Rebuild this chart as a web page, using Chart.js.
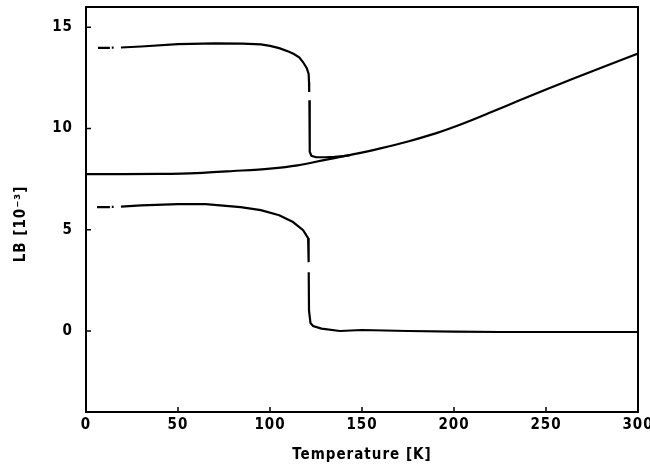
<!DOCTYPE html>
<html>
<head>
<meta charset="utf-8">
<script src="https://cdn.jsdelivr.net/npm/chart.js@4.4.1/dist/chart.umd.min.js"></script>
<style>
    html, body { margin: 0; padding: 0; background: #fff; }
    #wrap { width: 650px; height: 473px; }
</style>
</head>
<body>
<div id="wrap"><canvas id="lbChart"></canvas></div>
<script>
// Dados (LB em 10^-3, temperatura em K)
const xTicks = [0, 50, 100, 150, 200, 250, 300];
const yTicks = [0, 5, 10, 15];

// curva superior (null = falha no traço)
const upperT = [6.5, 13, 13.5, 14, 15, 16, 19, 30, 50, 70, 85, 95, 100, 105, 110, 113, 116, 118, 120, 121, 121.2, 121.3, 121.35, 121.4, 121.5, 121.7, 122.5, 125, 130, 135, 140, 143.5];
const upperLB = [13.98, 13.98, null, 13.99, 13.99, null, 14.0, 14.05, 14.17, 14.2, 14.19, 14.15, 14.08, 13.97, 13.8, 13.68, 13.5, 13.27, 12.98, 12.7, 12.3, 11.8, null, 11.4, 9.5, 8.85, 8.65, 8.58, 8.58, 8.6, 8.64, 8.68];

// curva do meio
const middleT = [0, 20, 40, 60, 80, 100, 115, 130, 145, 160, 175, 190, 205, 220, 235, 250, 265, 280, 300];
const middleLB = [7.75, 7.75, 7.76, 7.8, 7.9, 8.02, 8.18, 8.45, 8.72, 9.02, 9.36, 9.76, 10.25, 10.8, 11.37, 11.93, 12.47, 13.0, 13.7];

// curva inferior
const lowerT = [6, 13, 13.5, 14, 15, 16, 19, 30, 50, 65, 84, 95, 105, 112.5, 118, 120.7, 121, 121.03, 121.05, 121.2, 122, 123.4, 128, 138, 150, 175, 200, 225, 250, 275, 300];
const lowerLB = [6.12, 6.12, null, 6.13, 6.13, null, 6.14, 6.2, 6.27, 6.27, 6.12, 5.97, 5.72, 5.38, 4.98, 4.59, 3.4, null, 2.9, 1.0, 0.39, 0.25, 0.12, 0.0, 0.05, 0.0, -0.03, -0.05, -0.05, -0.05, -0.05];

const fonte = "'Liberation Sans Narrow', 'DejaVu Sans Condensed', 'Liberation Sans', sans-serif";

function pontos(ts, vs) {
    return ts.map((t, i) => ({ x: t, y: vs[i] }));
}

function serie(ts, vs, monotone) {
    return {
        data: pontos(ts, vs),
        borderColor: '#000',
        borderWidth: 2.2,
        pointRadius: 0,
        fill: false,
        spanGaps: false,
        tension: 0,
        cubicInterpolationMode: monotone ? 'monotone' : 'default'
    };
}

// Moldura e marcas para dentro
const molduraPlugin = {
    id: 'moldura',
    beforeDraw(chart) {
        chart.ctx.letterSpacing = '1px';
    },
    afterDraw(chart) {
        const { ctx, chartArea: a, scales } = chart;
        ctx.save();
        ctx.letterSpacing = '0px';
        ctx.strokeStyle = '#000';
        ctx.lineWidth = 2;
        ctx.strokeRect(a.left, a.top, a.right - a.left, a.bottom - a.top);
        ctx.lineWidth = 1.5;
        ctx.beginPath();
        yTicks.forEach(v => {
            const y = scales.y.getPixelForValue(v);
            ctx.moveTo(a.left, y);
            ctx.lineTo(a.left + 5, y);
        });
        xTicks.forEach(v => {
            if (v === 0 || v === 300) return;
            const x = scales.x.getPixelForValue(v);
            ctx.moveTo(x, a.bottom);
            ctx.lineTo(x, a.bottom - 5);
        });
        ctx.stroke();
        ctx.restore();
    }
};

const ctx = document.getElementById('lbChart').getContext('2d');
const lbChart = new Chart(ctx, {
    type: 'line',
    data: {
        datasets: [
            serie(upperT, upperLB, false),
            serie(middleT, middleLB, true),
            serie(lowerT, lowerLB, false)
        ]
    },
    options: {
        responsive: true,
        maintainAspectRatio: false,
        animation: false,
        layout: { padding: { top: 7, right: 12, left: 0, bottom: 0 } },
        plugins: {
            legend: { display: false },
            tooltip: { enabled: false }
        },
        scales: {
            x: {
                type: 'linear',
                min: 0,
                max: 300,
                afterBuildTicks: scale => { scale.ticks = xTicks.map(v => ({ value: v })); },
                afterFit: scale => {
                    scale.height = 61;
                    scale.paddingLeft = 0;
                    scale.paddingRight = 0;
                },
                grid: { display: false, drawTicks: false },
                border: { display: false },
                ticks: {
                    color: '#000',
                    padding: 4,
                    maxRotation: 0,
                    font: { family: fonte, size: 15, weight: 'bold' }
                },
                title: {
                    display: true,
                    text: 'Temperature [K]',
                    color: '#000',
                    padding: { top: 0, bottom: 9 },
                    font: { family: fonte, size: 15, weight: 'bold' }
                }
            },
            y: {
                min: -4,
                max: 16,
                afterBuildTicks: scale => { scale.ticks = yTicks.map(v => ({ value: v })); },
                afterFit: scale => {
                    scale.width = 86;
                    scale.paddingTop = 0;
                    scale.paddingBottom = 0;
                },
                grid: { display: false, drawTicks: false },
                border: { display: false },
                ticks: {
                    color: '#000',
                    padding: 13,
                    font: { family: fonte, size: 15, weight: 'bold' }
                },
                title: {
                    display: true,
                    text: 'LB [10⁻³]\u2003\u2003',
                    color: '#000',
                    padding: { top: 12, bottom: 0 },
                    font: { family: fonte, size: 15, weight: 'bold' }
                }
            }
        }
    },
    plugins: [molduraPlugin]
});
</script>
</body>
</html>
